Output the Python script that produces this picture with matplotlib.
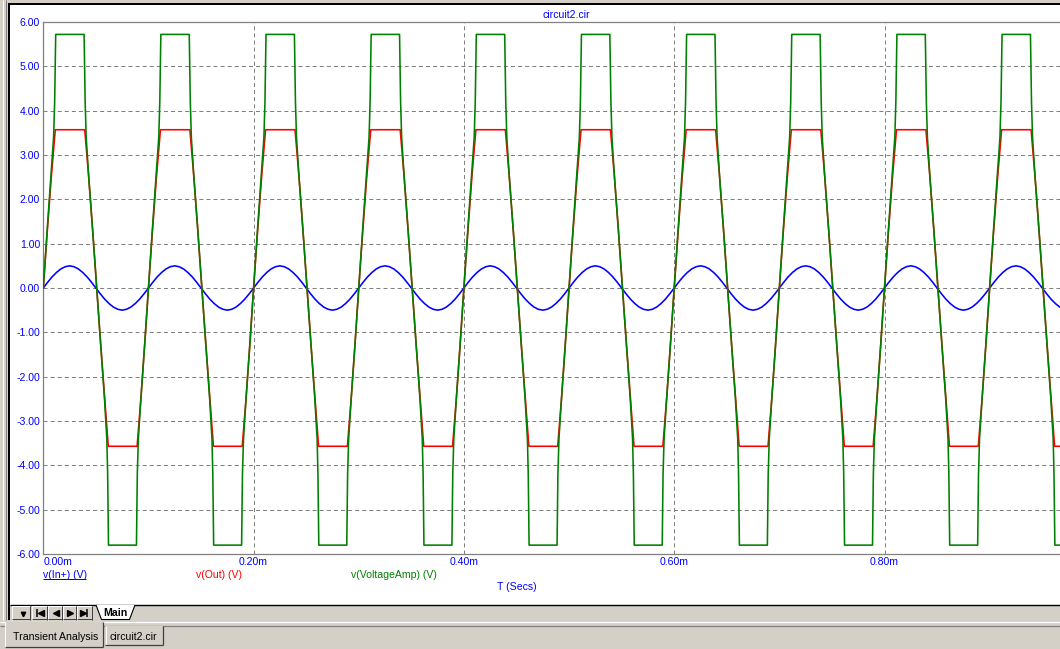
import numpy as np
import matplotlib
matplotlib.use("Agg")
import matplotlib.pyplot as plt
from matplotlib.patches import Rectangle, Polygon

plt.rcParams['font.family'] = ['Liberation Sans', 'DejaVu Sans']
plt.rcParams['lines.scale_dashes'] = False

# ---------------- data ----------------
period_ms = 0.1           # one cycle of the 10 kHz input
n_periods = 10            # 0 .. 1.0 ms

# v(In+) : one period of samples, 24 steps
vin_t = [i * period_ms / 24 for i in range(25)]
vin_v = [0.00, 0.13, 0.25, 0.35, 0.43, 0.48, 0.50, 0.48, 0.43, 0.35, 0.25, 0.13,
         0.00, -0.13, -0.25, -0.35, -0.43, -0.48, -0.50, -0.48, -0.43, -0.35, -0.25, -0.13,
         0.00]

# v(Out) : one period of breakpoints
vout_t = [0.0, 0.0038, 0.0076, 0.0114, 0.0394, 0.0432, 0.0470, 0.0508,
          0.0546, 0.0584, 0.0618, 0.0892, 0.0928, 0.0964, 0.1000]
vout_v = [0.00, 1.28, 2.50, 3.57, 3.57, 2.50, 1.28, 0.00,
          -1.28, -2.50, -3.57, -3.57, -2.50, -1.28, 0.00]

# v(VoltageAmp) : one period of breakpoints
vamp_t = [0.0, 0.0036, 0.0072, 0.0098, 0.0108, 0.0118, 0.0388, 0.0398, 0.0408,
          0.0432, 0.0470, 0.0508, 0.0546, 0.0582, 0.0604, 0.0612, 0.0620,
          0.0886, 0.0894, 0.0904, 0.0928, 0.0964, 0.1000]
vamp_v = [0.00, 1.28, 2.50, 3.40, 4.20, 5.72, 5.72, 4.20, 3.40,
          2.50, 1.28, 0.00, -1.28, -2.50, -3.40, -4.20, -5.80,
          -5.80, -4.20, -3.40, -2.50, -1.28, 0.00]

y_ticks = [-6, -5, -4, -3, -2, -1, 0, 1, 2, 3, 4, 5, 6]
x_ticks = [0.0, 0.2, 0.4, 0.6, 0.8]
x_tick_labels = ["0.00m", "0.20m", "0.40m", "0.60m", "0.80m"]
y_tick_labels = ["%.2f" % v for v in y_ticks]

legend_labels = ["v(In+) (V)", "v(Out) (V)", "v(VoltageAmp) (V)"]
title = "circuit2.cir"
x_title = "T (Secs)"


def repeat(t_one, v_one, n):
    t_all, v_all = [], []
    for k in range(n):
        start = 0 if k == 0 else 1
        t_all += [k * period_ms + t for t in t_one[start:]]
        v_all += v_one[start:]
    return np.array(t_all), np.array(v_all)


tin, yin = repeat(vin_t, vin_v, n_periods)
tout, yout = repeat(vout_t, vout_v, n_periods)
tamp, yamp = repeat(vamp_t, vamp_v, n_periods)

# ---------------- figure ----------------
W, H = 1060, 649
fig = plt.figure(figsize=(W / 100, H / 100), dpi=100)
fig.patch.set_facecolor('white')

GRAY = '#d4d0c8'
DARK = '#808080'
BLUE = '#0000ff'
RED = '#ff0000'
GREEN = '#008000'

# background / window chrome in pixel coordinates
bg = fig.add_axes([0, 0, 1, 1], zorder=0)
bg.set_xlim(0, W)
bg.set_ylim(H, 0)
bg.axis('off')

def rect(x0, y0, x1, y1, color, z=1):
    bg.add_patch(Rectangle((x0, y0), x1 - x0, y1 - y0, facecolor=color,
                           edgecolor='none', zorder=z))

def hline(y, x0, x1, color, lw=0.72, z=2):
    bg.plot([x0, x1], [y, y], color=color, lw=lw, zorder=z, solid_capstyle='butt')

def vline(x, y0, y1, color, lw=0.72, z=2):
    bg.plot([x, x], [y0, y1], color=color, lw=lw, zorder=z, solid_capstyle='butt')

# top frame
rect(0, 0, W, 3.3, GRAY)
rect(0, 3.3, W, 5.0, 'black')
# left frame
rect(0, 0, 8, H, GRAY)
vline(2.5, 0, 620, '#ffffff', lw=0.72)
vline(5.5, 0, 620, DARK, lw=0.72)
rect(8, 4, 9.7, 621, 'black')
# tab strip
rect(9.7, 604.5, W, 621, GRAY)
hline(605, 9.7, W, 'black', lw=1.0)
# nav buttons
btns = [(12, 30), (32, 47), (48, 62), (63, 76), (77, 92)]
for (x0, x1) in btns:
    rect(x0, 606, x1, 619.5, GRAY, z=2)
    hline(606.3, x0, x1, 'white', z=3)
    vline(x0 + 0.3, 606, 619.5, 'white', z=3)
    hline(619.2, x0, x1, '#404040', z=3)
    vline(x1 - 0.3, 606, 619.5, '#404040', z=3)
# glyphs
bg.plot([23], [613.5], marker='v', color='black', ms=3.2, zorder=4)
bg.plot([41], [612.5], marker='<', color='black', ms=4.5, zorder=4)
vline(37.3, 608.5, 616.5, 'black', lw=1.1, z=4)
bg.plot([55.5], [612.5], marker='<', color='black', ms=4.5, zorder=4)
bg.plot([69.5], [612.5], marker='>', color='black', ms=4.5, zorder=4)
bg.plot([83.0], [612.5], marker='>', color='black', ms=4.5, zorder=4)
vline(86.8, 608.5, 616.5, 'black', lw=1.1, z=4)
# "Main" tab
bg.add_patch(Polygon([(96, 605), (101.5, 619.5), (129.5, 619.5), (135, 605)],
                     closed=False, facecolor='white', edgecolor='black',
                     lw=0.8, zorder=3))
bg.text(115, 613, "Main", fontsize=7.6, fontweight='bold', color='black',
        ha='center', va='center', zorder=5)
# lower tab area
rect(9.7, 621, W, H, GRAY)
rect(0, 620, W, H, GRAY)
hline(621.5, 0, W, 'white', lw=0.9)
hline(625.8, 0, W, DARK, lw=0.9)
# "Transient Analysis" (selected) tab
rect(5, 622, 103, 647, GRAY, z=3)
vline(5.3, 622, 647, 'white', z=4)
hline(646.8, 5, 103, '#404040', lw=0.9, z=4)
vline(103, 622, 647, '#404040', lw=0.9, z=4)
bg.text(56, 637.5, "Transient Analysis", fontsize=7.6, color='black',
        ha='center', va='center', zorder=5)
# "circuit2.cir" tab
rect(105, 626, 163, 645, GRAY, z=3)
vline(105.5, 626, 645, 'white', z=4)
hline(644.8, 105, 163, '#404040', lw=0.9, z=4)
vline(162.8, 626, 645, '#404040', lw=0.9, z=4)
bg.text(133.5, 636.5, "circuit2.cir", fontsize=7.6, color='black',
        ha='center', va='center', zorder=5)

# texts of the plot window
bg.text(566.7, 15.5, title, fontsize=7.6, color=BLUE, ha='center', va='center', zorder=5)
bg.text(43.3, 574.5, legend_labels[0], fontsize=7.6, color=BLUE, ha='left', va='center', zorder=5)
hline(579.3, 43.3, 85.5, BLUE, lw=0.72, z=5)
bg.text(196, 574.5, legend_labels[1], fontsize=7.6, color=RED, ha='left', va='center', zorder=5)
bg.text(351, 574.5, legend_labels[2], fontsize=7.6, color=GREEN, ha='left', va='center', zorder=5)
bg.text(516.5, 587.5, x_title, fontsize=7.6, color=BLUE, ha='center', va='center', zorder=5)

# ---------------- main plot ----------------
left_px, right_px, top_px, bot_px = 43.3, 1094.8, 22.0, 554.0
ax = fig.add_axes([left_px / W, (H - bot_px) / H, (right_px - left_px) / W,
                   (bot_px - top_px) / H], zorder=2)
ax.set_facecolor('white')
ax.set_xlim(0, 1.0)
ax.set_ylim(-6, 6)

ax.plot(tin, yin, color=BLUE, lw=1.15, zorder=3)
ax.plot(tout, yout, color=RED, lw=1.15, zorder=4)
ax.plot(tamp, yamp, color=GREEN, lw=1.15, zorder=5)

ax.set_yticks(y_ticks)
ax.set_yticklabels(y_tick_labels)
ax.set_xticks(x_ticks)
ax.set_xticklabels(x_tick_labels)
ax.tick_params(axis='both', length=0, colors=BLUE, labelsize=7.6)
ax.tick_params(axis='y', pad=2.2)
ax.tick_params(axis='x', pad=2.0)
ax.get_xticklabels()[0].set_horizontalalignment('left')

ax.grid(True, color=DARK, linestyle=(0, (2.9, 2.2)), lw=0.72, zorder=1)
for s in ['left', 'top', 'bottom', 'right']:
    ax.spines[s].set_color(DARK)
    ax.spines[s].set_linewidth(0.9)

fig.savefig("out.png", dpi=100)
